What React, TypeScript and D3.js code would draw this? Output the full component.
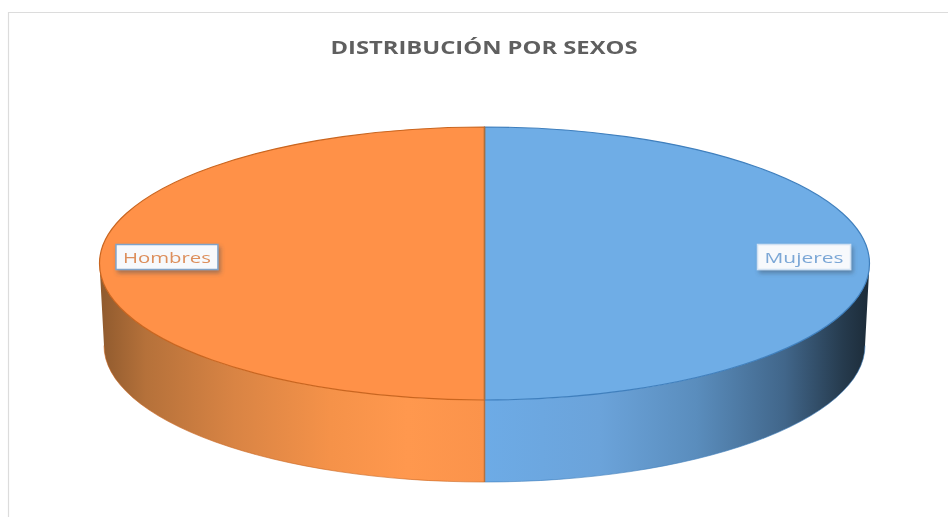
import React from 'react';
import * as d3 from 'd3';

const categories = ['Mujeres', 'Hombres'];
const values = [50, 50];
const topColors = ['#6fade6', '#ff9148'];
const edgeColors = ['#3f7fbd', '#c9651f'];
const labelColors = ['#7ba7d6', '#dd8f5c'];
const title = 'DISTRIBUCIÓN POR SEXOS';

const width = 948, height = 517;
const cx = 484.5, cy = 263.5, rx = 385, ry = 136.5, depth = 82;
const bottomRx = 380.5; // the base of the drum looks a little narrower than the top

const pie = d3.pie<number>().sort(null)(values);

// angle measured clockwise from the top of the disc
const px = (a: number) => cx + rx * Math.sin(a);
const py = (a: number) => cy - ry * Math.cos(a);
const bx = (a: number) => cx + bottomRx * Math.sin(a);

const topPath = (a0: number, a1: number) =>
    `M${cx},${cy}L${px(a0)},${py(a0)}A${rx},${ry} 0 ${a1 - a0 > Math.PI ? 1 : 0} 1 ${px(a1)},${py(a1)}Z`;

// only the part of the rim that faces the viewer gets a wall
const wallRange = (a0: number, a1: number) => [Math.max(a0, Math.PI / 2), Math.min(a1, (3 * Math.PI) / 2)];

const baseArc = (a0: number, a1: number) => {
    const [s, e] = wallRange(a0, a1);
    return `M${bx(e)},${py(e) + depth}A${bottomRx},${ry} 0 0 0 ${bx(s)},${py(s) + depth}`;
};

const wallPath = (a0: number, a1: number) => {
    const [s, e] = wallRange(a0, a1);
    return `M${px(s)},${py(s)}A${rx},${ry} 0 0 1 ${px(e)},${py(e)}L${bx(e)},${py(e) + depth}A${bottomRx},${ry} 0 0 0 ${bx(s)},${py(s) + depth}Z`;
};

const App: React.FC = () => {
    const fontFamily = "'Open Sans', 'Noto Sans', sans-serif";
    return (
        <svg width={width} height={height} style={{ position: 'absolute', left: 0, top: 0 }}>
            <defs>
                <linearGradient id="wall-blue" gradientUnits="userSpaceOnUse" x1={cx} x2={cx + rx} y1={0} y2={0}>
                    <stop offset="0" stopColor="#6dabe6" />
                    <stop offset="0.3" stopColor="#6ba3da" />
                    <stop offset="0.55" stopColor="#5a8dbd" />
                    <stop offset="0.78" stopColor="#41668a" />
                    <stop offset="0.93" stopColor="#263b4e" />
                    <stop offset="1" stopColor="#1c2b38" />
                </linearGradient>
                <linearGradient id="wall-orange" gradientUnits="userSpaceOnUse" x1={cx - rx} x2={cx} y1={0} y2={0}>
                    <stop offset="0" stopColor="#8f5a2e" />
                    <stop offset="0.12" stopColor="#b5713a" />
                    <stop offset="0.35" stopColor="#d98444" />
                    <stop offset="0.6" stopColor="#f59249" />
                    <stop offset="0.8" stopColor="#ff984e" />
                    <stop offset="1" stopColor="#fb934b" />
                </linearGradient>
                <filter id="label-shadow" x="-20%" y="-40%" width="140%" height="190%">
                    <feDropShadow dx="2" dy="3" stdDeviation="2" floodColor="#3a4a5a" floodOpacity="0.45" />
                </filter>
                <filter id="soft" x="-5%" y="-30%" width="110%" height="160%">
                    <feGaussianBlur stdDeviation="0.45" />
                </filter>
            </defs>

            <rect width={width} height={height} fill="#ffffff" />
            <path d={`M8.5,${height}V12.5H${width}`} fill="none" stroke="#dcdcdc" strokeWidth={1.2} />

            <text x={484} y={54} textAnchor="middle" fontFamily={fontFamily} fontSize={17.5} fontWeight={700} fill="#5f5f5f" textLength={307} lengthAdjust="spacingAndGlyphs" filter="url(#soft)">
                {title}
            </text>

            {/* walls */}
            {pie.map((d, i) => (
                <g key={'wall' + i}>
                    <path d={wallPath(d.startAngle, d.endAngle)} fill={`url(#wall-${i === 0 ? 'blue' : 'orange'})`} />
                    <path d={baseArc(d.startAngle, d.endAngle)} fill="none" stroke={edgeColors[i]} strokeOpacity={0.6} />
                </g>
            ))}
            <line x1={cx} x2={cx} y1={cy + ry} y2={cy + ry + depth} stroke="#b5723f" strokeWidth={1.5} />

            {/* top of the disc */}
            {pie.map((d, i) => (
                <path key={categories[i]} d={topPath(d.startAngle, d.endAngle)} fill={topColors[i]} stroke={edgeColors[i]} strokeWidth={1.2} />
            ))}
            <line x1={cx} x2={cx} y1={cy - ry} y2={cy + ry} stroke="#a9703f" strokeWidth={1.5} />

            {/* labels */}
            {pie.map((d, i) => {
                const mid = (d.startAngle + d.endAngle) / 2;
                const lx = cx + rx * 0.83 * Math.sin(mid) + (i === 0 ? 0 : 2);
                const ly = cy - 6.5;
                const w = i === 0 ? 93 : 102;
                return (
                    <g key={'label' + i}>
                        <rect
                            x={lx - w / 2}
                            y={ly - 12.5}
                            width={w}
                            height={25}
                            fill="#f7f9fc"
                            stroke={i === 0 ? '#cfe0f2' : '#7fa3c9'}
                            strokeWidth={1.5}
                            filter="url(#label-shadow)"
                        />
                        <text
                            x={lx}
                            y={ly + 5.5}
                            textAnchor="middle"
                            fontFamily={fontFamily}
                            fontSize={15}
                            fill={labelColors[i]}
                            textLength={w - 14}
                            lengthAdjust="spacingAndGlyphs"
                            filter="url(#soft)"
                        >
                            {categories[i]}
                        </text>
                    </g>
                );
            })}
        </svg>
    );
};

export default App;
